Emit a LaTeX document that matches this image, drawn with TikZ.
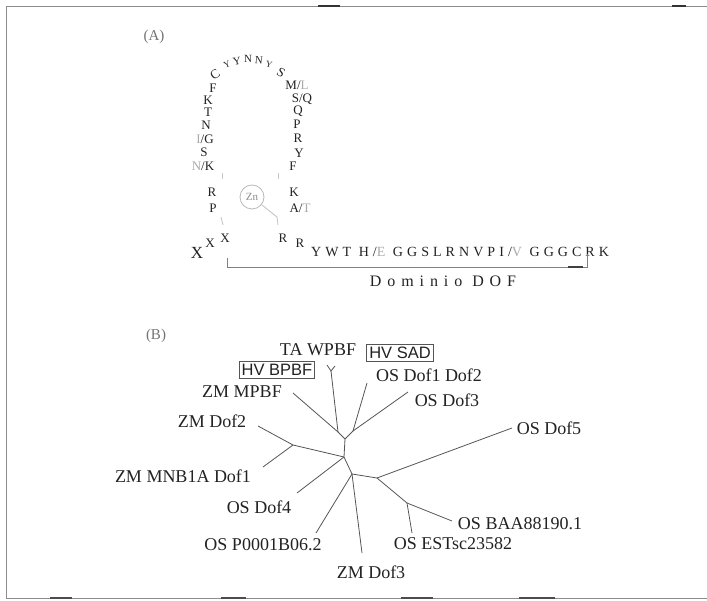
\documentclass[tikz,border=0pt]{standalone}
\usepackage{fontspec}
\setmainfont{Liberation Serif}
\newfontfamily\boxfont{Liberation Sans}
\definecolor{ink}{HTML}{222222}
\definecolor{lite}{HTML}{AAAAAA}
\definecolor{branch}{HTML}{555555}
\begin{document}
\begin{tikzpicture}[x=1pt,y=-1pt,
  lbl/.style={font=\fontsize{18}{20}\selectfont, text=ink, inner sep=0pt},
  boxlbl/.style={font=\boxfont\fontsize{16.5}{19}\selectfont, text=ink, draw=branch, line width=0.8pt, inner sep=2.5pt},
  aa/.style={font=\fontsize{13}{15}\selectfont, text=ink, inner sep=0pt},
  arc/.style={font=\fontsize{11}{13}\selectfont, text=ink, inner sep=0pt},
  br/.style={draw=branch, line width=0.8pt},
  faint/.style={draw=black!22, line width=0.9pt},
  frame/.style={draw=black!45, line width=0.8pt}]
\useasboundingbox (0,0) rectangle (707,601);
% frame
\draw[frame] (6,598) -- (6,6) -- (707,6);
\draw[frame] (6,598) -- (707,598);
\draw[black!80, line width=2pt] (318,6) -- (340,6);
\draw[black!80, line width=2pt] (672,6) -- (686,6);
\draw[black!70, line width=1.6pt] (50,598) -- (72,598);
\draw[black!70, line width=1.6pt] (221,598) -- (246,598);
\draw[black!70, line width=1.6pt] (401,598) -- (433,598);
\draw[black!70, line width=1.6pt] (519,598) -- (555,598);
% ---------------- (A)
\node[font=\fontsize{15}{17}\selectfont, text=black!55] (la) at (154,37) {(A)};
% top arc
\node[arc, rotate=35, font=\fontsize{13}{15}\selectfont] (c1) at (215,75) {C};
\node[arc, rotate=22, font=\fontsize{9}{11}\selectfont] (y1) at (227,65) {Y};
\node[arc, rotate=10] (y2) at (237,61) {Y};
\node[arc] (n1) at (248,59) {N};
\node[arc, rotate=-5] (n2) at (259,60) {N};
\node[arc, rotate=-15, font=\fontsize{9}{11}\selectfont] (y3) at (269,64) {Y};
\node[arc, rotate=-30, font=\fontsize{13}{15}\selectfont] (s1) at (281,73) {S};
% left column
\node[aa] (lf) at (213,88) {F};
\node[aa] (lk) at (208,100) {K};
\node[aa] (lt) at (208,112) {T};
\node[aa] (ln) at (206,125) {N};
\node[aa] (lig) at (205,139) {\textcolor{lite}{I}/G};
\node[aa] (ls) at (204,152) {S};
\node[aa] (lnk) at (203,166) {\textcolor{lite}{N}/K};
\node[aa] (lr) at (212,192) {R};
\node[aa] (lp) at (213,208) {P};
\node[aa] (x1) at (225,238) {X};
\node[aa] (x2) at (210,243) {X};
\node[aa, font=\fontsize{17}{19}\selectfont] (x3) at (197,253) {X};
% right column
\node[aa] (rml) at (297,85) {M/\textcolor{lite}{L}};
\node[aa] (rsq) at (302,99) {S/Q};
\node[aa] (rq) at (298,111) {Q};
\node[aa] (rp) at (297,124) {P};
\node[aa] (rr) at (298,138) {R};
\node[aa] (ry) at (299,153) {Y};
\node[aa] (rf) at (293,166) {F};
\node[aa] (rk) at (294,192) {K};
\node[aa] (rat) at (300,208) {A/\textcolor{lite}{T}};
\node[aa] (rr1) at (283,238) {R};
\node[aa] (rr2) at (300,243) {R};
% zinc
\node[circle, draw=black!28, line width=0.8pt, text=black!45, font=\fontsize{11}{12}\selectfont, minimum size=24pt, inner sep=0pt] (zn) at (252,197) {Zn};
\coordinate (t1a) at (222,173); \coordinate (t1b) at (222,179);
\coordinate (t2a) at (278,173); \coordinate (t2b) at (278,179);
\coordinate (t3a) at (221,217); \coordinate (t3b) at (223,225);
\coordinate (t4a) at (277,217); \coordinate (t4b) at (278,225);
\draw[faint] (t1a) -- (t1b);
\draw[faint] (t2a) -- (t2b);
\draw[faint] (t3a) -- (t3b);
\draw[faint] (t4a) -- (t4b);
\draw[faint] (zn) -- (t4a);
% sequence
\node[aa, anchor=west, font=\fontsize{14}{16}\selectfont\addfontfeature{LetterSpace=29}] (seq) at (311,252) {YWT H/\textcolor{lite}{E} GGSLRNVPI/\textcolor{lite}{V} GGGCRK};
\coordinate (bl) at (227,258); \coordinate (bla) at (227,267);
\coordinate (brr) at (587,267); \coordinate (br2) at (587,254);
\draw[draw=black!50, line width=0.8pt] (bl) -- (bla) -- (brr) -- (br2);
\draw[black!75, line width=1.6pt] (568,267) -- (583,267);
\node[font=\fontsize{16}{18}\selectfont\addfontfeature{LetterSpace=37}, text=ink, inner sep=0pt] (dom) at (443,281) {Dominio DOF};
% ---------------- (B)
\node[font=\fontsize{15}{17}\selectfont, text=black!55] (lb) at (156,336) {(B)};
\node[lbl] (ta) at (318,350) {TA WPBF};
\node[boxlbl] (hvb) at (277,370) {HV BPBF};
\node[boxlbl] (hvs) at (400,353) {HV SAD};
\node[lbl] (od12) at (429,375) {OS Dof1 Dof2};
\node[lbl] (od3) at (447,400) {OS Dof3};
\node[lbl] (od5) at (549,428) {OS Dof5};
\node[lbl] (zmp) at (242,392) {ZM MPBF};
\node[lbl] (zd2) at (212,421) {ZM Dof2};
\node[lbl] (zmn) at (183,476) {ZM MNB1A Dof1};
\node[lbl] (od4) at (259,507) {OS Dof4};
\node[lbl] (op0) at (263,545) {OS P0001B06.2};
\node[lbl] (oes) at (453,544) {OS ESTsc23582};
\node[lbl] (oba) at (520,524) {OS BAA88190.1};
\node[lbl] (zd3) at (371,572) {ZM Dof3};
% tree
\coordinate (tw) at (331,371);
\coordinate (twa) at (327,365);
\coordinate (twb) at (335,366);
\coordinate (mp) at (293,393);
\coordinate (j1) at (338,432);
\coordinate (d1) at (367,383);
\coordinate (d3) at (408,392);
\coordinate (j3) at (353,431);
\coordinate (jc) at (345,439);
\coordinate (jd) at (344,457);
\coordinate (z2) at (258,426);
\coordinate (mn) at (263,467);
\coordinate (js) at (293,445);
\coordinate (d4) at (297,493);
\coordinate (je) at (352,474);
\coordinate (p0) at (316,533);
\coordinate (z3) at (362,553);
\coordinate (jf) at (377,478);
\coordinate (d5) at (512,428);
\coordinate (jg) at (407,503);
\coordinate (es) at (412,533);
\coordinate (ba) at (452,521);
\draw[br] (twa) -- (tw) -- (twb);
\draw[br] (tw) -- (j1);
\draw[br] (mp) -- (j1);
\draw[br] (j1) -- (jc);
\draw[br] (d1) -- (j3);
\draw[br] (d3) -- (j3);
\draw[br] (j3) -- (jc);
\draw[br] (jc) -- (jd);
\draw[br] (z2) -- (js);
\draw[br] (mn) -- (js);
\draw[br] (js) -- (jd);
\draw[br] (d4) -- (jd);
\draw[br] (jd) -- (je);
\draw[br] (p0) -- (je);
\draw[br] (z3) -- (je);
\draw[br] (je) -- (jf);
\draw[br] (jf) -- (d5);
\draw[br] (jf) -- (jg);
\draw[br] (jg) -- (es);
\draw[br] (jg) -- (ba);
\end{tikzpicture}
\end{document}
